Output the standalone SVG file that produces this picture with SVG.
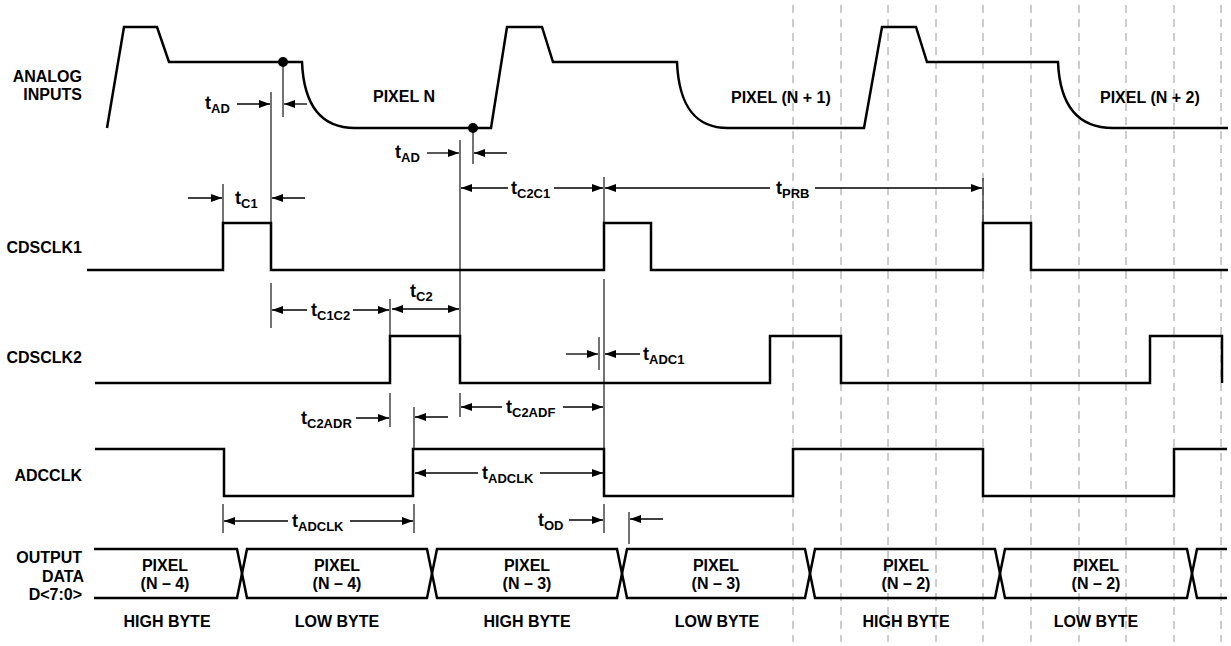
<svg xmlns="http://www.w3.org/2000/svg" width="1231" height="646" viewBox="0 0 1231 646">
<defs>
<marker id="ah" markerUnits="userSpaceOnUse" markerWidth="12" markerHeight="9" refX="11" refY="4" orient="auto"><path d="M0,0 L11,4 L0,8 z" fill="#000"/></marker>
</defs>
<style>
.grid{stroke:#9a9a9a;stroke-width:1;stroke-dasharray:8 6;fill:none}
.w{stroke:#000;stroke-width:2.5;fill:none;stroke-linejoin:miter}
.a{stroke:#000;stroke-width:1.3;fill:none;marker-end:url(#ah)}
.e{stroke:#000;stroke-width:1.1;fill:none}
text{font-family:"Liberation Sans",Arial,Helvetica,sans-serif;font-weight:bold;fill:#000}
.lb{font-size:16px;text-anchor:end}
.c{font-size:16px;text-anchor:middle}
.p{font-size:16px}
.t{font-size:18px}
.s{font-size:13px}
</style>
<rect width="1231" height="646" fill="#fff"/>
<g id="grid">
<line class="grid" x1="793" y1="5" x2="793" y2="642"/>
<line class="grid" x1="841" y1="5" x2="841" y2="642"/>
<line class="grid" x1="888" y1="5" x2="888" y2="642"/>
<line class="grid" x1="936" y1="5" x2="936" y2="642"/>
<line class="grid" x1="983" y1="5" x2="983" y2="642"/>
<line class="grid" x1="1031" y1="5" x2="1031" y2="642"/>
<line class="grid" x1="1079" y1="5" x2="1079" y2="642"/>
<line class="grid" x1="1126" y1="5" x2="1126" y2="642"/>
<line class="grid" x1="1174" y1="5" x2="1174" y2="642"/>
<line class="grid" x1="1221" y1="5" x2="1221" y2="642"/>
</g>
<g id="analog-inputs">
<text class="lb" x="82" y="82">ANALOG</text>
<text class="lb" x="82" y="100">INPUTS</text>
<path class="w" d="M107,128 L124,27 L157,27 L169,62 L302,62 C304,110 325,128 355,128 L491,128 L507,27 L542,27 L553,62 L677,62 C679,110 698,128 728,128 L864,128 L882,27 L916,27 L927,62 L1058,62 C1060,110 1081,128 1113,128 L1228,128"/>
<circle cx="283" cy="62" r="5" fill="#000"/>
<circle cx="473" cy="128" r="5" fill="#000"/>
<text class="p" x="373" y="102">PIXEL N</text>
<text class="p" x="731" y="103">PIXEL (N + 1)</text>
<text class="p" x="1100" y="103">PIXEL (N + 2)</text>
</g>
<g id="cdsclk1">
<text class="lb" x="82" y="253">CDSCLK1</text>
<path class="w" d="M87,270 H223 V223 H271 V270 H604 V223 H651 V270 H983 V223 H1031 V270 H1228"/>
</g>
<g id="cdsclk2">
<text class="lb" x="82" y="363">CDSCLK2</text>
<path class="w" d="M95,383 H390 V336 H460 V383 H770 V336 H841 V383 H1150 V336 H1222 V383"/>
</g>
<g id="adcclk">
<text class="lb" x="82" y="481">ADCCLK</text>
<path class="w" d="M95,449 H224 V496 H413 V449 H604 V496 H793 V449 H983 V496 H1174 V449 H1227"/>
</g>
<g id="output-data">
<text class="lb" x="82" y="563">OUTPUT</text>
<text class="lb" x="84" y="582">DATA</text>
<text class="lb" x="82" y="600">D&lt;7:0&gt;</text>
<path class="w" d="M94,549 H237 L247,598 H427 L437,549 H617 L627,598 H805 L815,549 H995 L1005,598 H1187 L1197,549 H1227"/>
<path class="w" d="M94,598 H237 L247,549 H427 L437,598 H617 L627,549 H805 L815,598 H995 L1005,549 H1187 L1197,598 H1227"/>
<text class="c" x="165" y="571">PIXEL</text><text class="c" x="165" y="589">(N – 4)</text>
<text class="c" x="337" y="571">PIXEL</text><text class="c" x="337" y="589">(N – 4)</text>
<text class="c" x="527" y="571">PIXEL</text><text class="c" x="527" y="589">(N – 3)</text>
<text class="c" x="716" y="571">PIXEL</text><text class="c" x="716" y="589">(N – 3)</text>
<text class="c" x="906" y="571">PIXEL</text><text class="c" x="906" y="589">(N – 2)</text>
<text class="c" x="1096" y="571">PIXEL</text><text class="c" x="1096" y="589">(N – 2)</text>
<text class="c" x="167" y="627">HIGH BYTE</text>
<text class="c" x="337" y="627">LOW BYTE</text>
<text class="c" x="527" y="627">HIGH BYTE</text>
<text class="c" x="717" y="627">LOW BYTE</text>
<text class="c" x="906" y="627">HIGH BYTE</text>
<text class="c" x="1096" y="627">LOW BYTE</text>
</g>
<g id="connectors">
<!-- tAD 1 -->
<text class="t" x="205" y="109">t<tspan class="s" dy="4">AD</tspan></text>
<line class="a" x1="237" y1="104" x2="270" y2="104"/>
<line class="e" x1="271" y1="92" x2="271" y2="223"/>
<line class="e" x1="283" y1="62" x2="283" y2="117"/>
<line class="a" x1="307" y1="104" x2="284" y2="104"/>
<!-- tAD 2 -->
<text class="t" x="395" y="158">t<tspan class="s" dy="4">AD</tspan></text>
<line class="a" x1="427" y1="153" x2="459" y2="153"/>
<line class="e" x1="460" y1="140" x2="460" y2="336"/>
<line class="e" x1="473" y1="128" x2="473" y2="164"/>
<line class="a" x1="507" y1="153" x2="474" y2="153"/>
<!-- tC1 -->
<line class="a" x1="188" y1="198" x2="222" y2="198"/>
<line class="e" x1="223" y1="184" x2="223" y2="223"/>
<text class="t" x="235" y="204">t<tspan class="s" dy="4">C1</tspan></text>
<line class="a" x1="305" y1="198" x2="272" y2="198"/>
<!-- tC2C1 -->
<line class="a" x1="508" y1="188" x2="461" y2="188"/>
<text class="t" x="511" y="194">t<tspan class="s" dy="4">C2C1</tspan></text>
<line class="a" x1="554" y1="188" x2="603" y2="188"/>
<line class="e" x1="604" y1="177" x2="604" y2="223"/>
<!-- tPRB -->
<line class="a" x1="770" y1="188" x2="605" y2="188"/>
<text class="t" x="776" y="194">t<tspan class="s" dy="4">PRB</tspan></text>
<line class="a" x1="815" y1="188" x2="982" y2="188"/>
<line class="e" x1="983" y1="178" x2="983" y2="223"/>
<!-- tC1C2 -->
<line class="e" x1="271" y1="283" x2="271" y2="328"/>
<line class="a" x1="307" y1="310" x2="272" y2="310"/>
<text class="t" x="311" y="316">t<tspan class="s" dy="4">C1C2</tspan></text>
<line class="a" x1="353" y1="310" x2="389" y2="310"/>
<line class="e" x1="390" y1="299" x2="390" y2="336"/>
<!-- tC2 -->
<text class="t" x="410" y="297">t<tspan class="s" dy="4">C2</tspan></text>
<line class="a" x1="425" y1="309" x2="392" y2="309"/>
<line class="a" x1="425" y1="309" x2="459" y2="309"/>
<!-- tADC1 -->
<line class="a" x1="566" y1="354" x2="598" y2="354"/>
<line class="e" x1="599" y1="337" x2="599" y2="370"/>
<line class="a" x1="640" y1="354" x2="605" y2="354"/>
<text class="t" x="643" y="360">t<tspan class="s" dy="4">ADC1</tspan></text>
<line class="e" x1="604" y1="279" x2="604" y2="449"/>
<!-- tC2ADR -->
<text class="t" x="301" y="424">t<tspan class="s" dy="4">C2ADR</tspan></text>
<line class="a" x1="356" y1="418" x2="389" y2="418"/>
<line class="e" x1="390" y1="393" x2="390" y2="427"/>
<line class="e" x1="414" y1="407" x2="414" y2="449"/>
<line class="a" x1="448" y1="417" x2="415" y2="417"/>
<!-- tC2ADF -->
<line class="e" x1="460" y1="393" x2="460" y2="417"/>
<line class="a" x1="502" y1="407" x2="461" y2="407"/>
<text class="t" x="506" y="413">t<tspan class="s" dy="4">C2ADF</tspan></text>
<line class="a" x1="563" y1="407" x2="603" y2="407"/>
<!-- tADCLK upper -->
<line class="a" x1="478" y1="473" x2="415" y2="473"/>
<text class="t" x="482" y="479">t<tspan class="s" dy="4">ADCLK</tspan></text>
<line class="a" x1="540" y1="473" x2="603" y2="473"/>
<!-- tADCLK lower -->
<line class="e" x1="223" y1="504" x2="223" y2="533"/>
<line class="a" x1="288" y1="521" x2="224" y2="521"/>
<text class="t" x="292" y="527">t<tspan class="s" dy="4">ADCLK</tspan></text>
<line class="a" x1="350" y1="521" x2="413" y2="521"/>
<line class="e" x1="414" y1="504" x2="414" y2="533"/>
<!-- tOD -->
<text class="t" x="538" y="526">t<tspan class="s" dy="4">OD</tspan></text>
<line class="a" x1="569" y1="520" x2="603" y2="520"/>
<line class="e" x1="604" y1="504" x2="604" y2="533"/>
<line class="e" x1="629" y1="512" x2="629" y2="544"/>
<line class="a" x1="663" y1="519" x2="630" y2="519"/>
</g>
</svg>
